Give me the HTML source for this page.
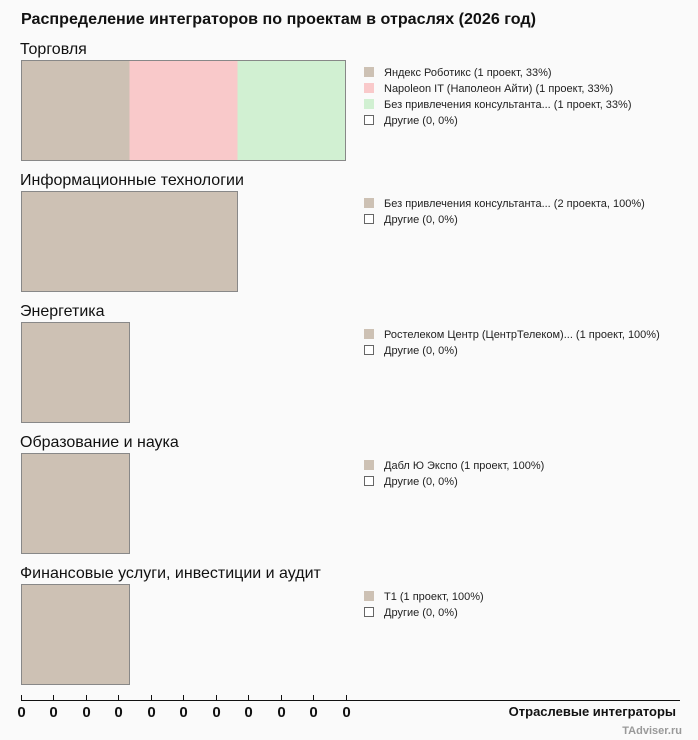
<!DOCTYPE html>
<html><head><meta charset="utf-8"><style>
html,body{margin:0;padding:0;background:#fafafa;}
svg{display:block;font-family:"Liberation Sans",Arial,sans-serif;}
</style></head><body>
<svg width="698" height="740" viewBox="0 0 698 740" xmlns="http://www.w3.org/2000/svg">
<rect width="698" height="740" fill="#fafafa"/>
<text x="21" y="24" font-size="16.1" font-weight="bold" fill="#111">Распределение интеграторов по проектам в отраслях (2026 год)</text>

<g font-size="16" fill="#111">
<text x="20" y="54">Торговля</text>
<text x="20" y="185">Информационные технологии</text>
<text x="20" y="316">Энергетика</text>
<text x="20" y="447">Образование и наука</text>
<text x="20" y="578">Финансовые услуги, инвестиции и аудит</text>
</g>

<g stroke="none">
<rect x="21.5" y="60.5" width="108" height="100" fill="#cdc1b4"/>
<rect x="129.5" y="60.5" width="108" height="100" fill="#f9c9ca"/>
<rect x="237.5" y="60.5" width="108" height="100" fill="#d1f0d2"/>
</g>
<rect x="21.5" y="60.5" width="324" height="100" fill="none" stroke="#888"/>
<rect x="21.5" y="191.5" width="216" height="100" fill="#cdc1b4" stroke="#888"/>
<rect x="21.5" y="322.5" width="108" height="100" fill="#cdc1b4" stroke="#888"/>
<rect x="21.5" y="453.5" width="108" height="100" fill="#cdc1b4" stroke="#888"/>
<rect x="21.5" y="584.5" width="108" height="100" fill="#cdc1b4" stroke="#888"/>

<g font-size="11" fill="#222">
<rect x="364" y="67" width="10" height="10" fill="#cdc1b4"/><text x="384" y="76">Яндекс Роботикс (1 проект, 33%)</text>
<rect x="364" y="83" width="10" height="10" fill="#f9c9ca"/><text x="384" y="92">Napoleon IT (Наполеон Айти) (1 проект, 33%)</text>
<rect x="364" y="99" width="10" height="10" fill="#d1f0d2"/><text x="384" y="108">Без привлечения консультанта... (1 проект, 33%)</text>
<rect x="364.5" y="115.5" width="9" height="9" fill="#fff" stroke="#666"/><text x="384" y="124">Другие (0, 0%)</text>

<rect x="364" y="198" width="10" height="10" fill="#cdc1b4"/><text x="384" y="207">Без привлечения консультанта... (2 проекта, 100%)</text>
<rect x="364.5" y="214.5" width="9" height="9" fill="#fff" stroke="#666"/><text x="384" y="223">Другие (0, 0%)</text>

<rect x="364" y="329" width="10" height="10" fill="#cdc1b4"/><text x="384" y="338">Ростелеком Центр (ЦентрТелеком)... (1 проект, 100%)</text>
<rect x="364.5" y="345.5" width="9" height="9" fill="#fff" stroke="#666"/><text x="384" y="354">Другие (0, 0%)</text>

<rect x="364" y="460" width="10" height="10" fill="#cdc1b4"/><text x="384" y="469">Дабл Ю Экспо (1 проект, 100%)</text>
<rect x="364.5" y="476.5" width="9" height="9" fill="#fff" stroke="#666"/><text x="384" y="485">Другие (0, 0%)</text>

<rect x="364" y="591" width="10" height="10" fill="#cdc1b4"/><text x="384" y="600">Т1 (1 проект, 100%)</text>
<rect x="364.5" y="607.5" width="9" height="9" fill="#fff" stroke="#666"/><text x="384" y="616">Другие (0, 0%)</text>
</g>

<line x1="21" y1="700.5" x2="680" y2="700.5" stroke="#111" stroke-width="1"/>
<g stroke="#111">
<line x1="21.5" y1="695" x2="21.5" y2="700"/>
<line x1="53.5" y1="695" x2="53.5" y2="700"/>
<line x1="86.5" y1="695" x2="86.5" y2="700"/>
<line x1="118.5" y1="695" x2="118.5" y2="700"/>
<line x1="151.5" y1="695" x2="151.5" y2="700"/>
<line x1="183.5" y1="695" x2="183.5" y2="700"/>
<line x1="216.5" y1="695" x2="216.5" y2="700"/>
<line x1="248.5" y1="695" x2="248.5" y2="700"/>
<line x1="281.5" y1="695" x2="281.5" y2="700"/>
<line x1="313.5" y1="695" x2="313.5" y2="700"/>
<line x1="346.5" y1="695" x2="346.5" y2="700"/>
</g>
<g font-size="15" font-weight="bold" fill="#111" text-anchor="middle">
<text x="21.5" y="717">0</text><text x="53.5" y="717">0</text><text x="86.5" y="717">0</text>
<text x="118.5" y="717">0</text><text x="151.5" y="717">0</text><text x="183.5" y="717">0</text>
<text x="216.5" y="717">0</text><text x="248.5" y="717">0</text><text x="281.5" y="717">0</text>
<text x="313.5" y="717">0</text><text x="346.5" y="717">0</text>
</g>
<text x="676" y="716" font-size="13" font-weight="bold" fill="#111" text-anchor="end">Отраслевые интеграторы</text>
<text x="682" y="734" font-size="11" font-weight="bold" fill="#999" text-anchor="end">TAdviser.ru</text>
</svg>
</body></html>
